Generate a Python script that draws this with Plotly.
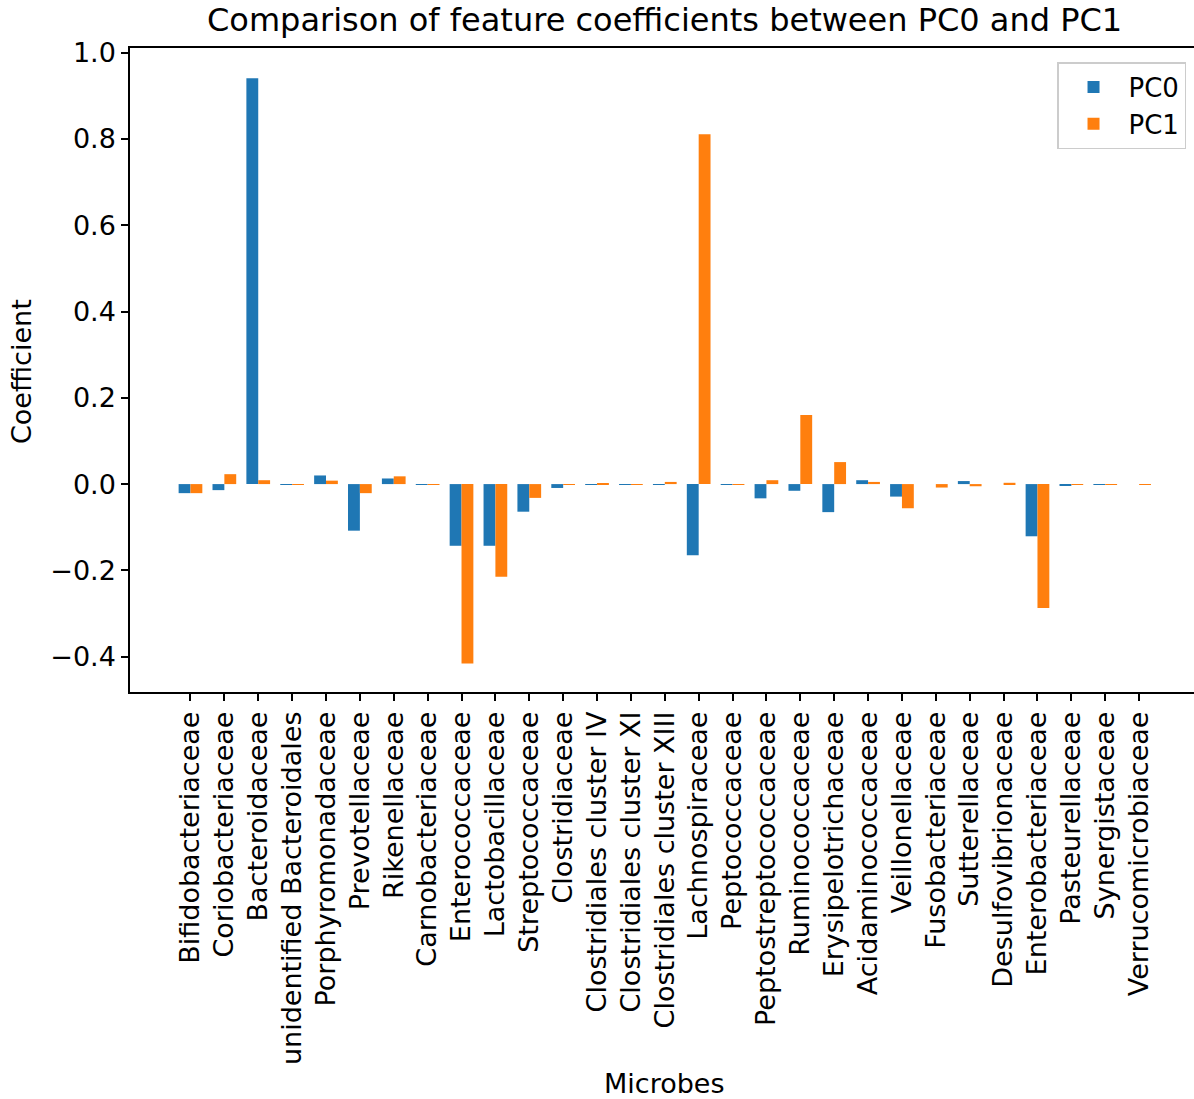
import plotly.graph_objects as go

microbes = ["Bifidobacteriaceae", "Coriobacteriaceae", "Bacteroidaceae", "unidentified Bacteroidales",
            "Porphyromonadaceae", "Prevotellaceae", "Rikenellaceae", "Carnobacteriaceae",
            "Enterococcaceae", "Lactobacillaceae", "Streptococcaceae", "Clostridiaceae",
            "Clostridiales cluster IV", "Clostridiales cluster XI", "Clostridiales cluster XIII",
            "Lachnospiraceae", "Peptococcaceae", "Peptostreptococcaceae", "Ruminococcaceae",
            "Erysipelotrichaceae", "Acidaminococcaceae", "Veillonellaceae", "Fusobacteriaceae",
            "Sutterellaceae", "Desulfovibrionaceae", "Enterobacteriaceae", "Pasteurellaceae",
            "Synergistaceae", "Verrucomicrobiaceae"]

pc0 = [-0.021, -0.014, 0.941, -0.001, 0.020, -0.108, 0.013, -0.002,
       -0.143, -0.143, -0.064, -0.009, -0.0005, -0.002, -0.001,
       -0.165, -0.002, -0.033, -0.0155, -0.065, 0.009, -0.029, 0.0,
       0.007, 0.0, -0.121, -0.003, -0.002, 0.0]

pc1 = [-0.021, 0.023, 0.009, -0.001, 0.008, -0.021, 0.018, -0.001,
       -0.416, -0.215, -0.032, -0.001, 0.001, -0.001, 0.005,
       0.811, -0.001, 0.009, 0.160, 0.051, 0.005, -0.056, -0.008,
       -0.005, 0.003, -0.287, -0.002, -0.001, -0.001]

ytick_vals = [-0.4, -0.2, 0.0, 0.2, 0.4, 0.6, 0.8, 1.0]
ytick_text = [("\u2212" if v < 0 else "") + f"{abs(v):.1f}" for v in ytick_vals]

FONT = "DejaVu Sans"
x_idx = list(range(len(microbes)))

fig = go.Figure()
fig.add_trace(go.Bar(x=x_idx, y=pc0, name="PC0", marker=dict(color="#1f77b4", line=dict(width=0))))
fig.add_trace(go.Bar(x=x_idx, y=pc1, name="PC1", marker=dict(color="#ff7f0e", line=dict(width=0))))

fig.update_layout(
    width=1194, height=1099,
    margin=dict(l=130, r=0, t=48, b=407),
    plot_bgcolor="white", paper_bgcolor="white",
    barmode="group", bargap=0.3, bargroupgap=0,
    font=dict(family=FONT, size=27, color="black"),
    showlegend=True,
    legend=dict(x=0.9925, y=0.978, xanchor="right", yanchor="top",
                bordercolor="#cccccc", borderwidth=1.5, bgcolor="rgba(255,255,255,0.8)",
                font=dict(size=26), itemsizing="constant", itemwidth=60),
    annotations=[
        dict(text="Comparison of feature coefficients between PC0 and PC1", xref="paper", yref="paper",
             x=(664 - 130) / 1064, y=(692 - 20) / 644, xanchor="center", yanchor="middle",
             showarrow=False, font=dict(size=32, family=FONT)),
        dict(text="Microbes", xref="paper", yref="paper",
             x=(664 - 130) / 1064, y=(692 - 1083) / 644, xanchor="center", yanchor="middle",
             showarrow=False, font=dict(size=27, family=FONT)),
        dict(text="Coefficient", xref="paper", yref="paper", textangle=-90,
             x=(22 - 130) / 1064, y=(692 - 372) / 644, xanchor="center", yanchor="middle",
             showarrow=False, font=dict(size=27, family=FONT)),
    ],
)

fig.update_xaxes(
    range=[-1.785, 29.62], tickmode="array", tickvals=x_idx, ticktext=microbes,
    tickangle=-90, ticks="outside", ticklen=7, tickwidth=1.5, tickcolor="black",
    showline=True, linecolor="black", linewidth=1.5, mirror=True,
    showgrid=False, zeroline=False, automargin=False, tickfont=dict(size=27, family=FONT),
)
fig.update_yaxes(
    range=[-0.482, 1.011], tickmode="array", tickvals=ytick_vals, ticktext=ytick_text,
    ticks="outside", ticklen=7, tickwidth=1.5, tickcolor="black",
    showline=True, linecolor="black", linewidth=1.5, mirror=False,
    showgrid=False, zeroline=False, automargin=False, tickfont=dict(size=27, family=FONT),
)

fig.write_html("out.html")
